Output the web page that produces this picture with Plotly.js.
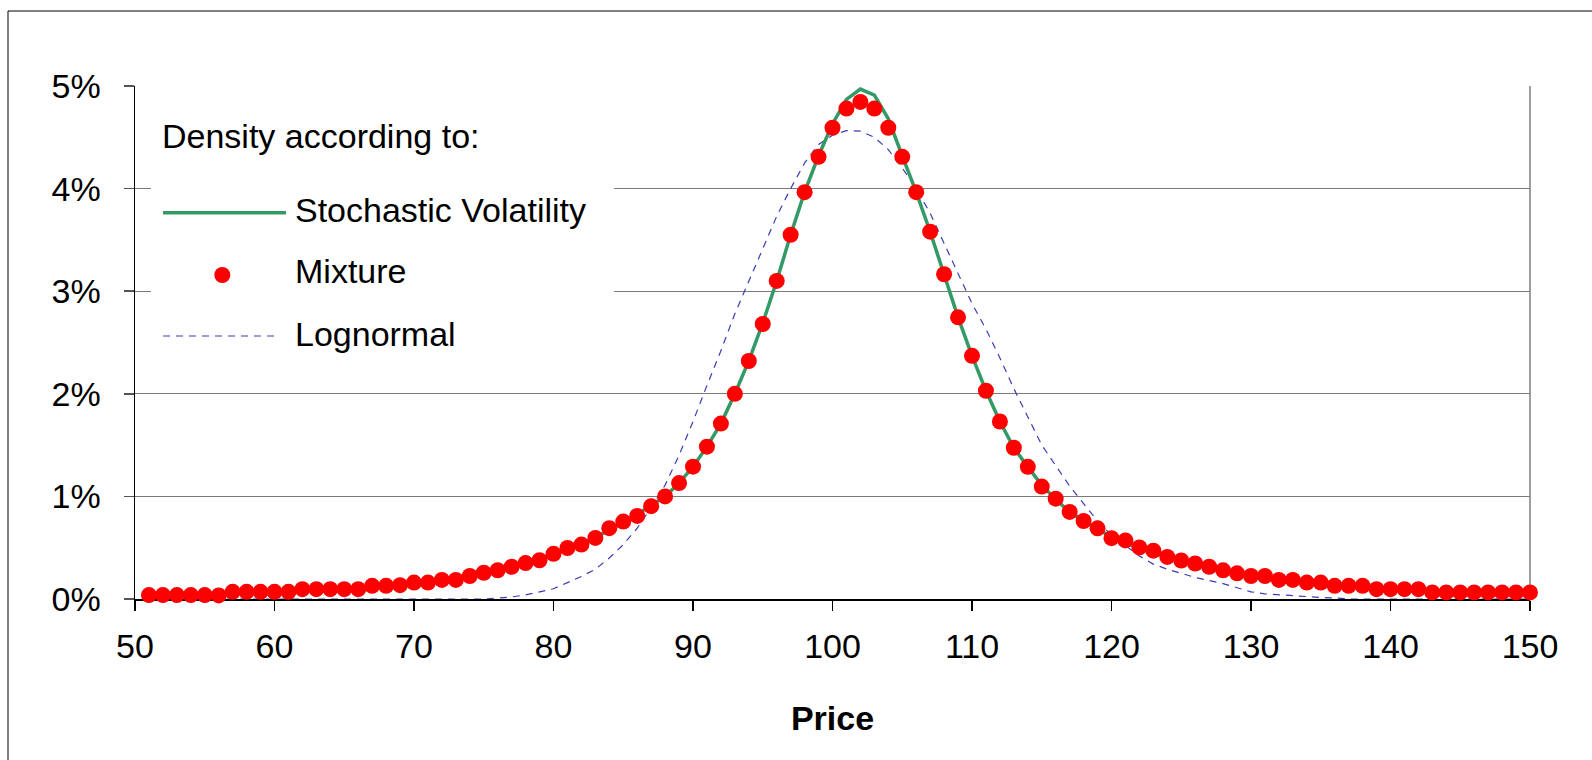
<!DOCTYPE html>
<html>
<head>
<meta charset="utf-8">
<script src="https://cdn.plot.ly/plotly-3.0.1.min.js"></script>
<style>html,body{margin:0;padding:0;background:#fff;}#chart{width:1592px;height:760px;}</style>
</head>
<body>
<div id="chart"></div>
<script>
// ---- Data (values in percent) ----
const prices = [
  51,52,53,54,55,56,57,58,59,60,
  61,62,63,64,65,66,67,68,69,70,
  71,72,73,74,75,76,77,78,79,80,
  81,82,83,84,85,86,87,88,89,90,
  91,92,93,94,95,96,97,98,99,100,
  101,102,103,104,105,106,107,108,109,110,
  111,112,113,114,115,116,117,118,119,120,
  121,122,123,124,125,126,127,128,129,130,
  131,132,133,134,135,136,137,138,139,140,
  141,142,143,144,145,146,147,148,149,150
];
const stochVol = [
  0.035,0.037,0.040,0.042,0.045,0.050,0.055,0.060,0.065,0.070,
  0.075,0.080,0.086,0.093,0.100,0.108,0.117,0.127,0.138,0.150,
  0.165,0.180,0.200,0.222,0.248,0.278,0.312,0.350,0.390,0.437,
  0.487,0.540,0.600,0.670,0.745,0.825,0.910,1.000,1.130,1.290,
  1.485,1.710,2.000,2.320,2.690,3.100,3.550,3.965,4.320,4.630,
  4.870,4.970,4.910,4.680,4.320,3.965,3.580,3.165,2.745,2.370,
  2.030,1.730,1.474,1.288,1.110,0.970,0.850,0.760,0.680,0.605,
  0.545,0.495,0.450,0.410,0.372,0.338,0.307,0.279,0.254,0.231,
  0.210,0.192,0.175,0.160,0.146,0.134,0.123,0.113,0.104,0.096,
  0.089,0.083,0.078,0.073,0.069,0.066,0.063,0.061,0.059,0.057
];
const mixture = [
  0.038,0.038,0.038,0.038,0.038,0.035,0.070,0.070,0.070,0.070,
  0.070,0.096,0.096,0.096,0.096,0.096,0.128,0.128,0.135,0.160,
  0.160,0.186,0.186,0.224,0.256,0.280,0.314,0.350,0.378,0.440,
  0.497,0.530,0.595,0.690,0.755,0.810,0.905,1.000,1.130,1.290,
  1.485,1.710,2.000,2.320,2.680,3.100,3.550,3.965,4.310,4.593,
  4.780,4.845,4.780,4.593,4.310,3.965,3.580,3.165,2.745,2.370,
  2.030,1.730,1.474,1.288,1.096,0.978,0.849,0.760,0.689,0.593,
  0.571,0.503,0.471,0.410,0.375,0.346,0.314,0.279,0.250,0.224,
  0.224,0.186,0.186,0.160,0.160,0.128,0.128,0.128,0.096,0.096,
  0.096,0.096,0.064,0.064,0.064,0.064,0.064,0.064,0.064,0.064
];
const lognormal = [
  0,0,0,0,0,0,0,0,0,0,
  0,0,0,0,0,0,0,0,0,0,
  0,0,0,0,0,0.010,0.020,0.040,0.070,0.100,
  0.160,0.220,0.290,0.400,0.530,0.690,0.890,1.110,1.400,1.730,
  2.080,2.420,2.780,3.100,3.420,3.730,4.000,4.250,4.430,4.520,
  4.565,4.560,4.500,4.380,4.200,4.000,3.760,3.470,3.180,2.880,
  2.630,2.350,2.050,1.780,1.500,1.300,1.100,0.930,0.760,0.620,
  0.520,0.420,0.340,0.290,0.250,0.210,0.180,0.150,0.110,0.070,
  0.050,0.040,0.030,0.020,0.015,0.010,0,0,0,0,
  0,0,0,0,0,0,0,0,0,0
];
const xTickVals = [50,60,70,80,90,100,110,120,130,140,150];
const yTickVals = [0,1,2,3,4,5];
const yTickText = ['0%','1%','2%','3%','4%','5%'];
const legendTitle = 'Density according to:';
const seriesNames = ['Stochastic Volatility','Mixture','Lognormal'];

// ---- Styles ----
const GREEN = '#339966', RED = '#ff0000', BLUE = '#3c3cb4';
const FONT = '"Liberation Sans", Arial, Helvetica, sans-serif';

const traces = [
  {x: prices, y: lognormal, type:'scatter', mode:'lines', name: seriesNames[2],
   line:{color:BLUE, width:1.2, dash:'7px,6px'}, hoverinfo:'skip'},
  {x: prices, y: stochVol, type:'scatter', mode:'lines', name: seriesNames[0],
   line:{color:GREEN, width:3.5}, hoverinfo:'skip'},
  {x: prices, y: mixture, type:'scatter', mode:'markers', name: seriesNames[1],
   marker:{color:RED, size:16, line:{width:0}}, cliponaxis:false, hoverinfo:'skip'}
];

// pixel helpers for paper coordinates
const L = 135, R = 62, T = 86, B = 161, W = 1592, H = 760;
const PW = W - L - R, PH = H - T - B;
const px = X => (X - L) / PW;
const py = Y => 1 - (Y - T) / PH;

const shapes = [
  // outer chart frame (left and top edges visible)
  {type:'line', xref:'paper', yref:'paper', x0:px(8), x1:px(8), y0:py(11), y1:py(800), line:{color:'#000', width:1}, layer:'above'},
  {type:'line', xref:'paper', yref:'paper', x0:px(8), x1:px(1620), y0:py(11), y1:py(11), line:{color:'#000', width:1}, layer:'above'},
  // plot area right border
  {type:'line', xref:'paper', yref:'paper', x0:1, x1:1, y0:0, y1:1, line:{color:'#808080', width:1.5}, layer:'below'},
  // legend background box
  {type:'rect', xref:'paper', yref:'paper', x0:px(151), x1:px(614), y0:py(365), y1:py(92), fillcolor:'#ffffff', line:{width:0}, layer:'above'},
  // legend symbols
  {type:'line', xref:'paper', yref:'paper', x0:px(163), x1:px(286), y0:py(212.7), y1:py(212.7), line:{color:GREEN, width:3.5}, layer:'above'},
  {type:'circle', xref:'paper', yref:'paper', xsizemode:'pixel', ysizemode:'pixel', xanchor:px(222.3), yanchor:py(275), x0:-8, x1:8, y0:-8, y1:8, fillcolor:RED, line:{width:0}, layer:'above'},
  {type:'line', xref:'paper', yref:'paper', x0:px(163), x1:px(280), y0:py(336), y1:py(336), line:{color:BLUE, width:1.2, dash:'7px,6px'}, layer:'above'}
];

const annFont = {family:FONT, size:34, color:'#000'};
const annotations = [
  {xref:'paper', yref:'paper', x:px(160), y:py(136.3), text:legendTitle, showarrow:false, xanchor:'left', yanchor:'middle', font:annFont},
  {xref:'paper', yref:'paper', x:px(293), y:py(209.7), text:seriesNames[0], showarrow:false, xanchor:'left', yanchor:'middle', font:annFont},
  {xref:'paper', yref:'paper', x:px(293), y:py(271.3), text:seriesNames[1], showarrow:false, xanchor:'left', yanchor:'middle', font:annFont},
  {xref:'paper', yref:'paper', x:px(293), y:py(334), text:seriesNames[2], showarrow:false, xanchor:'left', yanchor:'middle', font:annFont}
];

const layout = {
  width: W, height: H,
  margin: {l:L, r:R, t:T, b:B, pad:0},
  paper_bgcolor:'#ffffff', plot_bgcolor:'#ffffff',
  showlegend:false,
  font:{family:FONT, size:34, color:'#000'},
  xaxis:{
    range:[50,150], tickmode:'array', tickvals:xTickVals,
    ticks:'outside', ticklen:10, tickwidth:1.5, tickcolor:'#000',
    showline:true, linecolor:'#000', linewidth:2, showgrid:false, zeroline:false,
    layer:'below traces', tickfont:{family:FONT, size:34, color:'#000'},
    ticklabelstandoff:6,
    title:{text:'<b>Price</b>', font:{family:FONT, size:34, color:'#000'}, standoff:42},
    fixedrange:true
  },
  yaxis:{
    range:[0,5], tickmode:'array', tickvals:yTickVals, ticktext:yTickText,
    ticks:'outside', ticklen:10, tickwidth:1.5, tickcolor:'#555',
    showline:true, linecolor:'#000', linewidth:1.5,
    showgrid:true, gridcolor:'#7a7a7a', gridwidth:1.3, zeroline:false,
    layer:'below traces', tickfont:{family:FONT, size:34, color:'#000'},
    ticklabelstandoff:16, fixedrange:true
  },
  shapes: shapes,
  annotations: annotations
};

Plotly.newPlot('chart', traces, layout, {displayModeBar:false, staticPlot:true});
</script>
</body>
</html>
